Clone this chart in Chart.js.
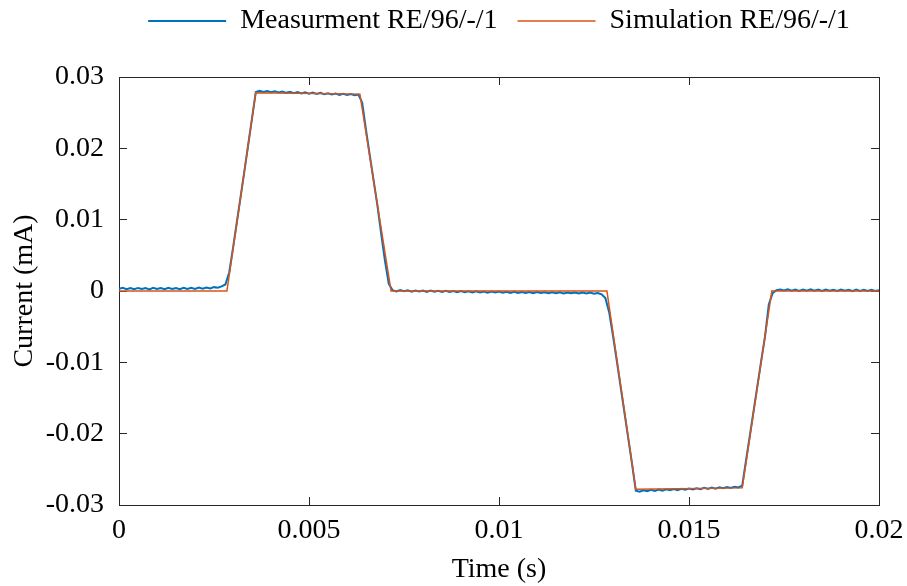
<!DOCTYPE html>
<html><head><meta charset="utf-8">
<script src="https://cdn.jsdelivr.net/npm/chart.js@4"></script>
<style>html,body{margin:0;padding:0;background:#fff;}canvas{display:block;}</style>
</head><body>
<canvas id="c" width="907" height="586"></canvas>
<script>
const seriesNames = ['Measurment RE/96/-/1', 'Simulation RE/96/-/1'];

const measTime = [
0,0.0001,0.0002,0.0003,0.0004,0.0005,0.0006,0.0007,0.0008,0.0009,
0.0010,0.0011,0.0012,0.0013,0.0014,0.0015,0.0016,0.0017,0.0018,0.0019,
0.0020,0.0021,0.0022,0.0023,0.0024,0.0025,0.0026,0.0027,0.0028,0.0029,
0.0030,0.0031,0.0032,0.0033,0.0034,0.0035,0.0036,0.0037,0.0038,0.0039,
0.0040,0.0041,0.0042,0.0043,0.0044,0.0045,0.0046,0.0047,0.0048,0.0049,
0.0050,0.0051,0.0052,0.0053,0.0054,0.0055,0.0056,0.0057,0.0058,0.0059,
0.0060,0.0061,0.0062,0.0063,0.0064,0.0065,0.0066,0.0067,0.0068,0.0069,
0.0070,0.0071,0.0072,0.0073,0.0074,0.0075,0.0076,0.0077,0.0078,0.0079,
0.0080,0.0081,0.0082,0.0083,0.0084,0.0085,0.0086,0.0087,0.0088,0.0089,
0.0090,0.0091,0.0092,0.0093,0.0094,0.0095,0.0096,0.0097,0.0098,0.0099,
0.0100,0.0101,0.0102,0.0103,0.0104,0.0105,0.0106,0.0107,0.0108,0.0109,
0.0110,0.0111,0.0112,0.0113,0.0114,0.0115,0.0116,0.0117,0.0118,0.0119,
0.0120,0.0121,0.0122,0.0123,0.0124,0.0125,0.0126,0.0127,0.0128,0.0129,
0.0130,0.0131,0.0132,0.0133,0.0134,0.0135,0.0136,0.0137,0.0138,0.0139,
0.0140,0.0141,0.0142,0.0143,0.0144,0.0145,0.0146,0.0147,0.0148,0.0149,
0.0150,0.0151,0.0152,0.0153,0.0154,0.0155,0.0156,0.0157,0.0158,0.0159,
0.0160,0.0161,0.0162,0.0163,0.0164,0.0165,0.0166,0.0167,0.0168,0.0169,
0.0170,0.0171,0.0172,0.0173,0.0174,0.0175,0.0176,0.0177,0.0178,0.0179,
0.0180,0.0181,0.0182,0.0183,0.0184,0.0185,0.0186,0.0187,0.0188,0.0189,
0.0190,0.0191,0.0192,0.0193,0.0194,0.0195,0.0196,0.0197,0.0198,0.0199,
0.0200];

const measCurrent = [
0.00030,0.00044,0.00026,0.00042,0.00024,0.00043,0.00027,0.00040,0.00023,0.00045,
0.00028,0.00041,0.00025,0.00045,0.00029,0.00043,0.00026,0.00046,0.00030,0.00044,
0.00028,0.00048,0.00032,0.00050,0.00036,0.00054,0.00045,0.00064,0.00092,0.00260,
0.00600,0.00960,0.01320,0.01680,0.02050,0.02420,0.02790,0.02806,0.02790,0.02803,
0.02786,0.02800,0.02783,0.02797,0.02778,0.02792,0.02774,0.02789,0.02770,0.02784,
0.02767,0.02781,0.02762,0.02777,0.02758,0.02773,0.02755,0.02769,0.02750,0.02765,
0.02747,0.02761,0.02744,0.02754,0.02640,0.02260,0.01900,0.01550,0.01200,0.00800,
0.00420,0.00100,0.00010,-0.00007,0.00014,-0.00004,0.00010,-0.00010,0.00008,-0.00008,
0.00006,-0.00012,0.00005,-0.00011,0.00003,-0.00014,0.00002,-0.00015,0.00000,-0.00017,
-0.00002,-0.00018,-0.00003,-0.00020,-0.00004,-0.00021,-0.00006,-0.00023,-0.00008,-0.00022,
-0.00009,-0.00025,-0.00010,-0.00026,-0.00012,-0.00028,-0.00013,-0.00027,-0.00014,-0.00030,
-0.00016,-0.00029,-0.00017,-0.00032,-0.00018,-0.00031,-0.00019,-0.00033,-0.00020,-0.00032,
-0.00021,-0.00035,-0.00022,-0.00034,-0.00023,-0.00038,-0.00028,-0.00047,-0.00100,-0.00300,
-0.00630,-0.00980,-0.01340,-0.01700,-0.02060,-0.02420,-0.02800,-0.02814,-0.02793,-0.02806,
-0.02788,-0.02802,-0.02784,-0.02798,-0.02780,-0.02794,-0.02777,-0.02791,-0.02773,-0.02787,
-0.02769,-0.02783,-0.02765,-0.02779,-0.02760,-0.02775,-0.02756,-0.02771,-0.02752,-0.02766,
-0.02748,-0.02762,-0.02743,-0.02754,-0.02730,-0.02380,-0.02030,-0.01680,-0.01330,-0.00980,
-0.00640,-0.00190,-0.00030,0.00012,0.00022,0.00006,0.00024,0.00004,0.00020,0.00002,
0.00021,0.00005,0.00023,0.00003,0.00019,0.00001,0.00021,0.00004,0.00018,0.00000,
0.00020,0.00003,0.00017,-0.00001,0.00019,0.00002,0.00016,0.00000,0.00018,0.00001,
0.00012];

const simTime    = [0, 0.00284, 0.0036, 0.00634, 0.00716, 0.01284, 0.0136, 0.0164, 0.01718, 0.02];
const simCurrent = [0, 0, 0.0278, 0.0276, 0, 0, -0.0278, -0.0276, 0, 0];

const xTickValues = [0, 0.005, 0.01, 0.015, 0.02];
const xTickLabels = ['0', '0.005', '0.01', '0.015', '0.02'];
const yTickValues = [-0.03, -0.02, -0.01, 0, 0.01, 0.02, 0.03];
const yTickLabels = ['-0.03', '-0.02', '-0.01', '0', '0.01', '0.02', '0.03'];
const xTitle = 'Time (s)';
const yTitle = 'Current (mA)';

const FONT = 'Liberation Serif';
const AX = '#262626';

const toPts = (xs, ys) => xs.map((x, i) => ({x: x, y: ys[i]}));

const legendFit = {
  id: 'legendFit',
  beforeInit(chart) {
    const orig = chart.legend.fit;
    chart.legend.fit = function () { orig.call(this); this.height = 90; };
  }
};

const setTicks = vals => s => { s.ticks = vals.map(v => ({value: v})); };

const baseGrid = {drawOnChartArea: false, drawTicks: true, tickLength: -8, color: AX, lineWidth: 1};

new Chart(document.getElementById('c'), {
  type: 'line',
  data: {
    datasets: [
      {label: seriesNames[0], data: toPts(measTime, measCurrent), borderColor: '#0072BD', backgroundColor: '#0072BD',
       borderWidth: 2, pointRadius: 0, tension: 0, order: 1, xAxisID: 'x', yAxisID: 'y'},
      {label: seriesNames[1], data: toPts(simTime, simCurrent), borderColor: '#D95319', backgroundColor: '#D95319',
       borderWidth: 1.5, pointRadius: 0, tension: 0, order: 0, xAxisID: 'x', yAxisID: 'y'}
    ]
  },
  options: {
    responsive: false,
    animation: false,
    layout: {padding: {top: -13, right: 28, left: 0, bottom: 0}},
    plugins: {
      tooltip: {enabled: false},
      legend: {
        position: 'top', align: 'center', fullSize: false,
        labels: {
          font: {family: FONT, size: 28}, color: '#000',
          usePointStyle: true, pointStyle: 'line', pointStyleWidth: 78, padding: 20,
          sort: (a, b) => a.datasetIndex - b.datasetIndex
        }
      }
    },
    scales: {
      x: {
        type: 'linear', position: 'bottom', min: 0, max: 0.02,
        afterBuildTicks: setTicks(xTickValues),
        afterFit: s => { s.height = 81; s.paddingRight = 0; s.paddingLeft = 0; },
        ticks: {font: {family: FONT, size: 28}, color: '#000', padding: 17, maxRotation: 0,
                callback: (v, i) => xTickLabels[i]},
        grid: baseGrid,
        border: {display: true, color: AX, width: 1},
        title: {display: true, text: xTitle, font: {family: FONT, size: 28}, color: '#000', padding: {top: 0, bottom: 0}}
      },
      x2: {
        type: 'linear', position: 'top', min: 0, max: 0.02,
        afterBuildTicks: setTicks(xTickValues),
        afterFit: s => { s.height = 0; s.paddingRight = 0; s.paddingLeft = 0; },
        ticks: {display: false},
        grid: baseGrid,
        border: {display: true, color: AX, width: 1}
      },
      y: {
        type: 'linear', position: 'left', min: -0.03, max: 0.03,
        afterBuildTicks: setTicks(yTickValues),
        afterFit: s => { s.width = 119; },
        ticks: {font: {family: FONT, size: 28}, color: '#000', padding: 23,
                callback: (v, i) => yTickLabels[i]},
        grid: baseGrid,
        border: {display: true, color: AX, width: 1},
        title: {display: true, text: yTitle, font: {family: FONT, size: 28}, color: '#000', padding: {top: 8, bottom: 0}}
      },
      y2: {
        type: 'linear', position: 'right', min: -0.03, max: 0.03,
        afterBuildTicks: setTicks(yTickValues),
        afterFit: s => { s.width = 0; },
        ticks: {display: false},
        grid: baseGrid,
        border: {display: true, color: AX, width: 1}
      }
    }
  },
  plugins: [legendFit]
});
</script>
</body></html>
